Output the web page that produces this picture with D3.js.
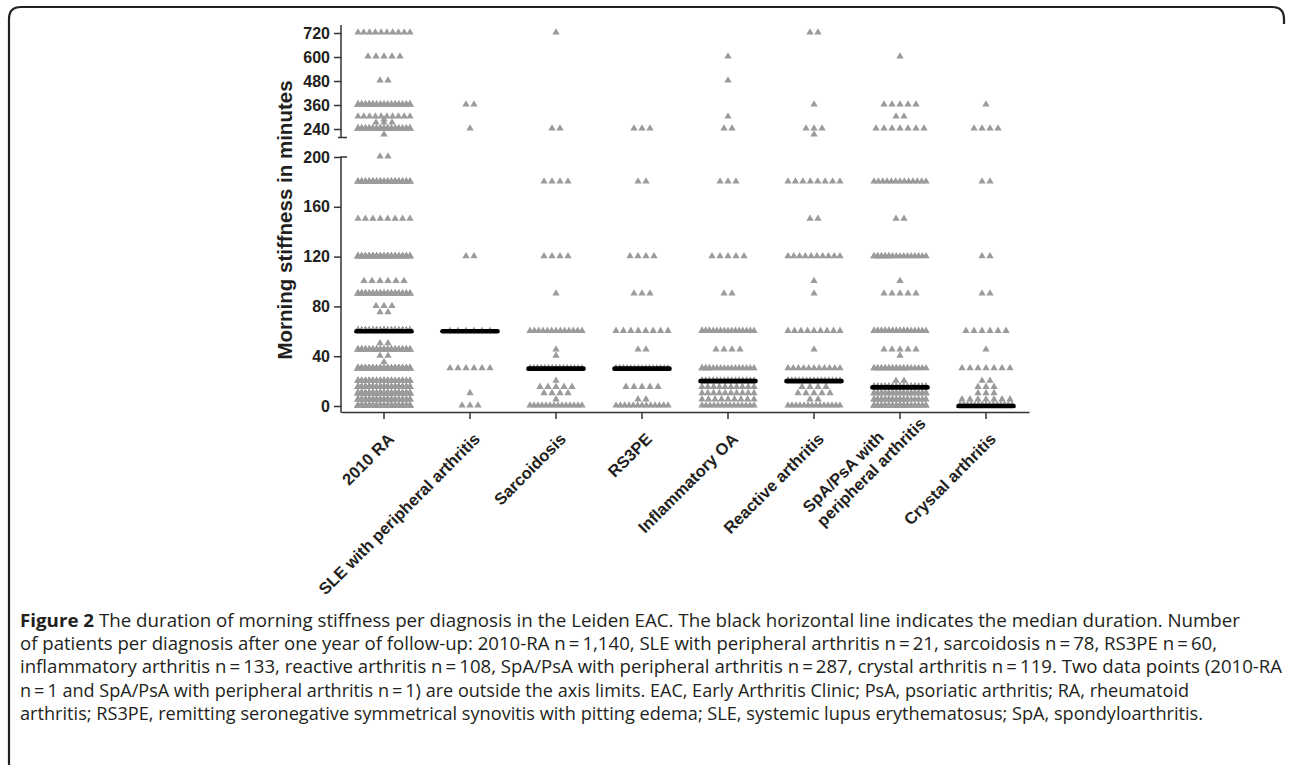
<!DOCTYPE html>
<html>
<head>
<meta charset="utf-8">
<script src="https://cdn.jsdelivr.net/npm/d3@7"></script>
<style>
  html, body { margin: 0; padding: 0; background: #fff; }
  svg { display: block; }
</style>
</head>
<body>
<svg id="chart"></svg>
<script>
// categories on the x axis ("|" splits a two-line label)
var categories = ["2010 RA", "SLE with peripheral arthritis", "Sarcoidosis", "RS3PE",
    "Inflammatory OA", "Reactive arthritis", "SpA/PsA with|peripheral arthritis", "Crystal arthritis"];

// median duration (minutes) per category, black bars
var medians = [60, 60, 30, 30, 20, 20, 15, 0];

// [minutes, number of patients] per category
var ra2010 = [[0, 100], [5, 40], [10, 90], [15, 70], [20, 40], [30, 110], [35, 1], [40, 2], [45, 60], [50, 2],
    [60, 296], [75, 2], [80, 3], [90, 55], [100, 6], [120, 70], [150, 8], [180, 45], [200, 2],
    [210, 1], [240, 55], [270, 3], [285, 1], [300, 10], [360, 50], [480, 2], [600, 5], [720, 10]];
var sle = [[0, 3], [10, 1], [30, 6], [60, 6], [120, 2], [240, 1], [360, 2]];
var sarcoidosis = [[0, 14], [5, 1], [10, 4], [15, 5], [20, 1], [30, 26], [40, 1], [45, 1], [60, 13],
    [90, 1], [120, 4], [180, 4], [240, 2], [720, 1]];
var rs3pe = [[0, 13], [5, 2], [15, 5], [30, 18], [45, 2], [60, 8], [90, 3], [120, 4], [180, 2], [240, 3]];
var inflammatoryOA = [[0, 14], [5, 9], [10, 10], [15, 10], [20, 35], [30, 18], [45, 4], [60, 18], [90, 2],
    [120, 5], [180, 3], [240, 2], [300, 1], [480, 1], [600, 1]];
var reactive = [[0, 14], [5, 2], [10, 5], [15, 4], [20, 33], [30, 11], [45, 1], [60, 9], [90, 1], [100, 1],
    [120, 10], [150, 2], [180, 8], [210, 1], [240, 3], [360, 1], [720, 2]];
var spaPsa = [[0, 40], [5, 25], [10, 30], [15, 77], [20, 2], [30, 25], [40, 1], [45, 5], [60, 25], [90, 5],
    [100, 1], [120, 20], [150, 2], [180, 13], [240, 7], [300, 2], [360, 5], [600, 1]];
var crystal = [[0, 79], [5, 7], [10, 3], [15, 3], [20, 2], [30, 7], [45, 1], [60, 6], [90, 2], [120, 2],
    [180, 2], [240, 4], [360, 1]];

var series = [ra2010, sle, sarcoidosis, rs3pe, inflammatoryOA, reactive, spaPsa, crystal];

var lowerTicks = [0, 40, 80, 120, 160, 200];
var upperTicks = [240, 360, 480, 600, 720];

var captionLines = [
    [["Figure 2", true], [" The duration of morning stiffness per diagnosis in the Leiden EAC. The black horizontal line indicates the median duration. Number", false]],
    [["of patients per diagnosis after one year of follow-up: 2010-RA n\u2009=\u20091,140, SLE with peripheral arthritis n\u2009=\u200921, sarcoidosis n\u2009=\u200978, RS3PE n\u2009=\u200960,", false]],
    [["inflammatory arthritis n\u2009=\u2009133, reactive arthritis n\u2009=\u2009108, SpA/PsA with peripheral arthritis n\u2009=\u2009287, crystal arthritis n\u2009=\u2009119. Two data points (2010-RA", false]],
    [["n\u2009=\u20091 and SpA/PsA with peripheral arthritis n\u2009=\u20091) are outside the axis limits. EAC, Early Arthritis Clinic; PsA, psoriatic arthritis; RA, rheumatoid", false]],
    [["arthritis; RS3PE, remitting seronegative symmetrical synovitis with pitting edema; SLE, systemic lupus erythematosus; SpA, spondyloarthritis.", false]]
];
// right end of each caption line in the figure
var captionEnds = [1240, 1217, 1282, 1189, 1203];

var W = 1292, H = 765;
var svg = d3.select("#chart").attr("width", W).attr("height", H);

// frame of the figure panel
svg.append("path")
    .attr("d", "M9,765 L9,19 Q9,7 21,7 L1272,7 Q1284,7 1284,19 L1284,24")
    .attr("fill", "none")
    .attr("stroke", "#231f20")
    .attr("stroke-width", 2.2);

var axisX = 341, baseY = 412;
var boldFont = "Liberation Sans, Arial, sans-serif";

var x = d3.scaleBand().domain(categories).range([341, 1029]);
var yLow = d3.scaleLinear().domain([0, 200]).range([406, 157]);
var yUp = d3.scaleLinear().domain([240, 720]).range([129, 33]);

function yOf(v) { return v <= 200 ? yLow(v) : yUp(v); }
function cx(c) { return x(c) + x.bandwidth() / 2; }

// spread points of one row sideways, overlapping when the row is full
var points = [];
series.forEach(function(rows, ci) {
    rows.forEach(function(r) {
        var v = r[0], n = r[1];
        var slots = Math.min(n, 15);
        var step = n <= 7 ? 8 : 52 / (slots - 1);
        for (var i = 0; i < n; i++) {
            var s = i % slots;
            points.push({ c: categories[ci], v: v, dx: (s - (slots - 1) / 2) * step });
        }
    });
});

var tri = d3.symbol().type(d3.symbolTriangle).size(23);

svg.append("g").selectAll("path")
    .data(points)
    .enter()
    .append("path")
    .attr("d", tri)
    .attr("transform", function(d) {
        return "translate(" + (cx(d.c) + d.dx) + "," + (yOf(d.v) - 0.5) + ")";
    })
    .attr("fill", "#9b9b9b");

// median bars
svg.append("g").selectAll("line")
    .data(medians)
    .enter()
    .append("line")
    .attr("x1", function(d, i) { return cx(categories[i]) - 27.5; })
    .attr("x2", function(d, i) { return cx(categories[i]) + 27.5; })
    .attr("y1", function(d) { return yOf(d); })
    .attr("y2", function(d) { return yOf(d); })
    .attr("stroke", "#000")
    .attr("stroke-width", 4.6)
    .attr("stroke-linecap", "round");

// y axes (two segments)
var axColor = "#333";
function styleAxis(g) {
    g.select(".domain").remove();
    g.selectAll(".tick line").attr("stroke", axColor).attr("stroke-width", 1.5);
    g.selectAll(".tick text")
        .attr("fill", "#231f20")
        .style("font-family", boldFont)
        .style("font-weight", "bold")
        .style("font-size", "16px");
}
svg.append("g")
    .attr("transform", "translate(" + axisX + ",0)")
    .call(d3.axisLeft(yLow).tickValues(lowerTicks).tickSize(7).tickPadding(4))
    .call(styleAxis);
svg.append("g")
    .attr("transform", "translate(" + axisX + ",0)")
    .call(d3.axisLeft(yUp).tickValues(upperTicks).tickSize(7).tickPadding(4))
    .call(styleAxis);

var ax = svg.append("g").attr("stroke", axColor).attr("stroke-width", 1.5).attr("fill", "none");
ax.append("path").attr("d", "M" + axisX + ",25 V137.5 M" + (axisX - 3) + ",137.5 H" + (axisX + 6));
ax.append("path").attr("d", "M" + axisX + "," + (baseY + 0.75) + " V157 H" + (axisX + 6));

// x axis
var xg = svg.append("g")
    .attr("transform", "translate(0," + baseY + ")")
    .call(d3.axisBottom(x).tickSize(7).tickSizeOuter(0).tickFormat(""));
xg.select(".domain").attr("stroke", axColor).attr("stroke-width", 1.5);
xg.selectAll(".tick line").attr("stroke", axColor).attr("stroke-width", 1.5);

var labels = svg.append("g").selectAll("text")
    .data(categories)
    .enter()
    .append("text")
    .attr("transform", function(d) { return "translate(" + (cx(d) + 7) + "," + (baseY + 24) + ") rotate(-45)"; })
    .attr("fill", "#231f20")
    .style("font-family", boldFont)
    .style("font-weight", "bold")
    .style("font-size", "16.5px");
labels.each(function(d) {
    var parts = d.split("|");
    var t = d3.select(this);
    if (parts.length === 1) {
        t.attr("text-anchor", "end").append("tspan").attr("x", 0).attr("y", "0.35em").text(d);
        return;
    }
    // two lines, left aligned; the second line runs a little past the tick
    var l2 = t.append("tspan").attr("y", "0.35em").text(parts[1]);
    var len = l2.node().getComputedTextLength();
    var l1 = t.insert("tspan", "tspan").attr("y", "-0.85em").text(parts[0]);
    l1.attr("x", 22 - len);
    l2.attr("x", 22 - len);
});

// y axis title
svg.append("text")
    .attr("transform", "translate(292,220) rotate(-90)")
    .attr("text-anchor", "middle")
    .attr("fill", "#231f20")
    .style("font-family", boldFont)
    .style("font-weight", "bold")
    .style("font-size", "20.5px")
    .text("Morning stiffness in minutes");

// caption
var cap = svg.append("g")
    .style("font-family", "Open Sans, Noto Sans, sans-serif")
    .style("font-size", "17.5px")
    .attr("fill", "#231f20");
captionLines.forEach(function(line, i) {
    var t = cap.append("text").attr("x", 20).attr("y", 627 + i * 23.2)
        .attr("textLength", captionEnds[i] - 20)
        .attr("lengthAdjust", "spacingAndGlyphs");
    line.forEach(function(seg) {
        t.append("tspan").style("font-weight", seg[1] ? "bold" : "normal").text(seg[0]);
    });
});
</script>
</body>
</html>
